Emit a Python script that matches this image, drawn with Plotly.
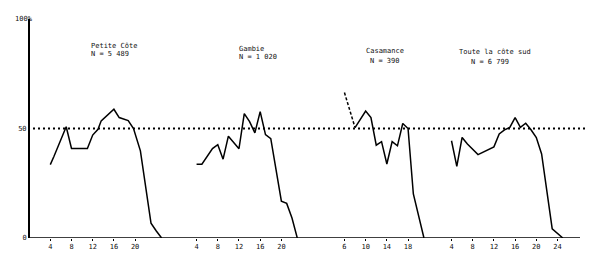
import plotly.graph_objects as go

# ---- data (hour of day, % ) ----
petite_hours = [4, 4.7, 7, 8, 11, 12, 13, 13.6, 16, 17, 18.7, 19.7, 21, 23, 24, 25]
petite_values = [33.5, 37.3, 50.8, 40.9, 40.9, 47, 49.6, 53.5, 58.8, 55, 53.6, 50, 39.8, 6.8, 3.2, 0]

gambie_hours = [4, 5, 7, 8, 9, 10, 12, 13, 14, 15, 16, 17, 18, 19, 20, 21, 22, 23]
gambie_values = [33.7, 33.7, 40.8, 42.6, 36, 46.5, 40.8, 56.8, 53.1, 48, 57.7, 47.2, 45.4, 30.3, 16.8, 15.8, 9.1, 0]

casa_dash_hours = [6, 8]
casa_dash_values = [66.4, 50.4]
casa_hours = [8, 10, 11, 12, 13, 14, 15, 16, 17, 18, 19, 21]
casa_values = [50.4, 58, 55, 42.4, 44, 33.8, 44, 42.1, 52.3, 50, 20.1, 0]

sud_hours = [4, 5, 6, 7, 9, 12, 13, 14, 15, 16, 17, 18, 19, 20, 21, 23, 25]
sud_values = [44.4, 32.7, 45.9, 42.9, 38.1, 41.6, 47.5, 49.4, 50.5, 55, 50.5, 52.4, 49.4, 45.9, 38.4, 4.2, 0]

panel_ticks = [[4, 8, 12, 16, 20], [4, 8, 12, 16, 20], [6, 10, 14, 18], [4, 8, 12, 16, 20, 24]]
panel_titles = ["Petite Côte", "Gambie", "Casamance", "Toute la côte sud"]
panel_counts = ["N = 5 489", "N = 1 020", "N = 390", "N = 6 799"]
reference_level = 50

# ---- layout helpers ----
offsets = [0, 27.6, 53.5, 75.7]
PXH = 5.3
X0 = 0.17
ML, MT, MB = 30, 19, 23
W_PLOT = 600 - ML
H_PLOT = 261 - MT - MB
def px_x(px):
    return X0 + (px - ML) / PXH
def px_y(py):
    return (MT + H_PLOT - py) / H_PLOT * 100

line_style = dict(color="black", width=1.5)
fig = go.Figure()

series = [(petite_hours, petite_values, 0), (gambie_hours, gambie_values, 1),
          (casa_hours, casa_values, 2), (sud_hours, sud_values, 3)]
for hrs, vals, p in series:
    fig.add_trace(go.Scatter(x=[h + offsets[p] for h in hrs], y=vals, mode="lines",
                             line=line_style, showlegend=False, hoverinfo="skip"))
fig.add_trace(go.Scatter(x=[h + offsets[2] for h in casa_dash_hours], y=casa_dash_values,
                         mode="lines", line=dict(color="black", width=1.5, dash="3px,2px"),
                         showlegend=False, hoverinfo="skip"))

# 50% reference dotted line
fig.add_trace(go.Scatter(x=[px_x(33), px_x(585)], y=[reference_level, reference_level], mode="lines",
                         line=dict(color="black", width=2, dash="2px,3px"),
                         showlegend=False, hoverinfo="skip"))

# baseline
fig.add_shape(type="line", x0=X0, x1=px_x(580), y0=0, y1=0, xref="x", yref="y",
              line=dict(color="black", width=1.5))

tickvals, ticktext = [], []
for p, ticks in enumerate(panel_ticks):
    for t in ticks:
        tickvals.append(t + offsets[p])
        ticktext.append(str(t))

font = dict(family="DejaVu Sans Mono", size=7, color="#111")

title_pos = [(89, 45.7, 89, 54), (236.7, 48.7, 236.7, 57.3), (364, 50.7, 367.7, 61), (457, 52.3, 469, 61.7)]
for i, (tx, ty, nx, ny) in enumerate(title_pos):
    fig.add_annotation(x=px_x(tx), y=px_y(ty), text=panel_titles[i], showarrow=False,
                       xanchor="left", yanchor="middle", font=font)
    fig.add_annotation(x=px_x(nx), y=px_y(ny), text=panel_counts[i], showarrow=False,
                       xanchor="left", yanchor="middle", font=font)

fig.add_annotation(x=(24 - ML) / W_PLOT, y=1.0, xref="paper", yref="paper", text="100%",
                   showarrow=False, xanchor="center", yanchor="middle", font=font)

fig.update_layout(
    width=600, height=261,
    margin=dict(l=ML, r=0, t=MT, b=MB, pad=0),
    paper_bgcolor="white", plot_bgcolor="white",
    xaxis=dict(range=[X0, X0 + W_PLOT / PXH], showgrid=False, zeroline=False, showline=False,
               tickvals=tickvals, ticktext=ticktext, ticks="outside", ticklen=2, tickcolor="black",
               tickfont=font),
    yaxis=dict(range=[0, 100], showgrid=False, zeroline=False, showline=True, linecolor="black",
               linewidth=2, tickvals=[0, 50], ticktext=["0", "50"], ticks="", tickfont=font),
)

fig.write_html("out.html")
